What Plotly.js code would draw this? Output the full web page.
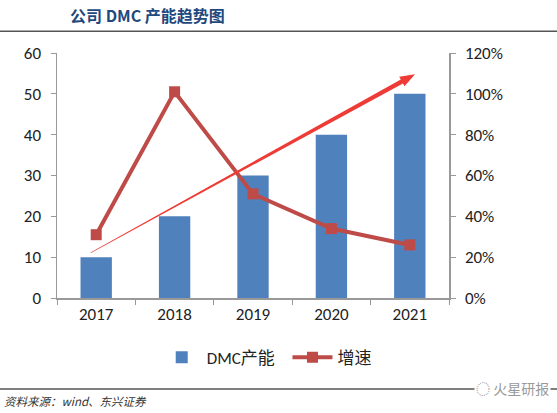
<!DOCTYPE html>
<html>
<head>
<meta charset="utf-8">
<script src="https://cdn.plot.ly/plotly-3.0.1.min.js"></script>
<style>html,body{margin:0;padding:0;background:#fff}#chart{width:557px;height:413px}</style>
</head>
<body>
<div id="chart"></div>
<script>
const years = ['2017', '2018', '2019', '2020', '2021'];
const capacity = [10, 20, 30, 40, 50];
const growth = [0.31, 1.01, 0.51, 0.34, 0.26];
const leftTicks = [0, 10, 20, 30, 40, 50, 60];
const rightTicks = [0, 0.2, 0.4, 0.6, 0.8, 1.0, 1.2];
const rightTickText = ['0%', '20%', '40%', '60%', '80%', '100%', '120%'];

const L = 57, R = 449, T = 52.7, B = 298;
const W = 557, H = 413;
function px(x, y) { return [(x - L) / (R - L), (B - y) / (B - T)]; }

// tapered trend arrow (decoration), built in pixel space
const S = [90.7, 252.7], TIP = [415, 74];
const dx = TIP[0] - S[0], dy = TIP[1] - S[1];
const len = Math.hypot(dx, dy);
const u = [dx / len, dy / len], n = [-u[1], u[0]];
const Bs = [TIP[0] - 15 * u[0], TIP[1] - 15 * u[1]];
const pts = [
  [S[0] + 0.4 * n[0], S[1] + 0.4 * n[1]],
  [Bs[0] + 2.2 * n[0], Bs[1] + 2.2 * n[1]],
  [Bs[0] + 5.5 * n[0], Bs[1] + 5.5 * n[1]],
  TIP,
  [Bs[0] - 5.5 * n[0], Bs[1] - 5.5 * n[1]],
  [Bs[0] - 2.2 * n[0], Bs[1] - 2.2 * n[1]],
  [S[0] - 0.4 * n[0], S[1] - 0.4 * n[1]]
].map(p => px(p[0], p[1]));
const path = 'M' + pts.map(p => p[0].toFixed(4) + ',' + p[1].toFixed(4)).join(' L') + ' Z';

const data = [
  {
    type: 'bar', x: years, y: capacity, name: 'DMC产能&nbsp;&nbsp;',
    marker: {color: '#4F81BD'}, yaxis: 'y'
  },
  {
    type: 'scatter', mode: 'lines+markers', x: years, y: growth, name: '增速',
    line: {color: '#BE4B48', width: 4}, marker: {color: '#BE4B48', symbol: 'square', size: 11},
    yaxis: 'y2'
  }
];

const font = {family: 'Calibri, Carlito, "Open Sans", "Noto Sans CJK SC", sans-serif', size: 16, color: '#222'};
const tickfont = {size: 17, color: '#222'};

const layout = {
  width: W, height: H,
  margin: {l: L, r: W - R, t: T, b: H - B},
  paper_bgcolor: '#fff', plot_bgcolor: '#fff',
  font: font,
  bargap: 0.6,
  showlegend: true,
  legend: {orientation: 'h', x: 0.535, xanchor: 'center', y: -0.17, yanchor: 'top', font: {size: 17, color: '#222'}, traceorder: 'normal', itemwidth: 40},
  xaxis: {
    type: 'category', showline: true, linecolor: '#999', linewidth: 1.5,
    ticks: 'outside', ticklen: 5, tickcolor: '#999', tickson: 'boundaries',
    showgrid: false, tickfont: tickfont, fixedrange: true
  },
  yaxis: {
    range: [0, 60], tickvals: leftTicks, showline: true, linecolor: '#999', linewidth: 1.5,
    ticks: 'outside', ticklen: 5, tickcolor: '#999', showgrid: false, zeroline: false,
    tickfont: tickfont, ticklabelstandoff: 6
  },
  yaxis2: {
    range: [0, 1.2], tickvals: rightTicks, ticktext: rightTickText, overlaying: 'y', side: 'right',
    showline: true, linecolor: '#999', linewidth: 1.5, ticks: 'outside', ticklen: 5, tickcolor: '#999',
    showgrid: false, zeroline: false, tickfont: tickfont, ticklabelstandoff: 6
  },
  shapes: [
    {type: 'path', xref: 'paper', yref: 'paper', path: path, fillcolor: '#EE3B36', line: {width: 0}, layer: 'above'},
    {type: 'line', xref: 'paper', yref: 'paper', x0: px(0, 0)[0], x1: px(W, 0)[0], y0: px(0, 31)[1], y1: px(0, 31)[1], line: {color: '#555', width: 1.5}},
    {type: 'line', xref: 'paper', yref: 'paper', x0: px(0, 0)[0], x1: px(W, 0)[0], y0: px(0, 389)[1], y1: px(0, 389)[1], line: {color: '#555', width: 1.5}}
  ],
  annotations: [
    {xref: 'paper', yref: 'paper', x: px(68, 0)[0], y: px(0, 15)[1], xanchor: 'left', yanchor: 'middle',
     text: '<b>公司 DMC 产能趋势图</b>', showarrow: false,
     font: {family: '"Noto Sans CJK SC", "Liberation Sans", sans-serif', size: 16, color: '#1F497D'}},
    {xref: 'paper', yref: 'paper', x: px(2, 0)[0], y: px(0, 401)[1], xanchor: 'left', yanchor: 'middle',
     text: '<i>资料来源：wind、东兴证券</i>', showarrow: false,
     font: {family: '"Noto Sans CJK SC", sans-serif', size: 11.5, color: '#333'}},
    {xref: 'paper', yref: 'paper', x: px(512, 0)[0], y: px(0, 388)[1], xanchor: 'center', yanchor: 'middle',
     text: '◌ 火星研报', showarrow: false, bgcolor: '#fff',
     font: {family: '"Noto Sans CJK SC", sans-serif', size: 14, color: '#999'}}
  ]
};

Plotly.newPlot('chart', data, layout, {displayModeBar: false, staticPlot: true});
</script>
</body>
</html>
